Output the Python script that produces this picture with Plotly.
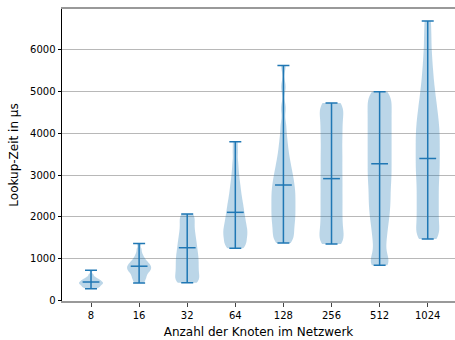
import plotly.graph_objects as go

knoten = ["8", "16", "32", "64", "128", "256", "512", "1024"]

# gemessene Lookup-Zeiten (geschätzte Stichproben, abgelesen aus der Violinenform)
zeiten_8 = [288, 305, 325, 338, 350, 368, 380, 392, 405, 415, 425, 435, 447, 458,
            470, 485, 497, 510, 530, 550, 580, 630, 729]
zeiten_16 = [424, 460, 510, 545, 580, 615, 650, 680, 705, 725, 748, 770, 792, 812,
             832, 855, 878, 905, 935, 965, 1010, 1060, 1130, 1230, 1367]
zeiten_32 = [430, 450, 510, 580, 650, 720, 790, 860, 930, 1000, 1070, 1140, 1220,
             1300, 1380, 1470, 1560, 1660, 1770, 1880, 1990, 2072]
zeiten_64 = [1252, 1280, 1330, 1390, 1450, 1510, 1560, 1610, 1660, 1710, 1760,
             1820, 1880, 1940, 2000, 2070, 2140, 2210, 2290, 2370, 2460, 2560, 2670,
             2790, 2930, 3100, 3300, 3550, 3793]
zeiten_128 = [1381, 1430, 1510, 1590, 1670, 1750, 1830, 1900, 1970, 2040, 2110, 2180,
              2250, 2320, 2390, 2460, 2530, 2600, 2670, 2740, 2820, 2900, 2980, 3070,
              3170, 3280, 3400, 3550, 3720, 3930, 4200, 4600, 5100, 5612]
zeiten_256 = [1357, 1385, 1440, 1525, 1615, 1730, 1815, 1925, 2010, 2130, 2215, 2330,
              2410, 2530, 2610, 2730, 2820, 2915, 3030, 3110, 3235, 3320, 3430, 3525,
              3620, 3740, 3830, 3940, 4035, 4130, 4240, 4330, 4440, 4530, 4620, 4690,
              4721]
zeiten_512 = [850, 900, 1020, 1250, 1450, 1630, 1790, 1940, 2070, 2200, 2320, 2440,
              2560, 2680, 2800, 2910, 3020, 3130, 3240, 3350, 3460, 3570, 3680, 3790,
              3900, 4010, 4120, 4230, 4340, 4450, 4560, 4670, 4780, 4880, 4986]
zeiten_1024 = [1476, 1530, 1630, 1750, 1870, 1990, 2110, 2230, 2350, 2470, 2590,
               2710, 2830, 2950, 3060, 3170, 3280, 3390, 3500, 3610, 3720, 3830,
               3940, 4050, 4160, 4280, 4400, 4530, 4670, 4820, 4990, 5180, 5400, 5650,
               5950, 6300, 6674]

stichproben = [zeiten_8, zeiten_16, zeiten_32, zeiten_64,
               zeiten_128, zeiten_256, zeiten_512, zeiten_1024]

minimum = [288, 424, 430, 1252, 1381, 1357, 850, 1476]
mittel = [448, 825, 1266, 2110, 2762, 2914, 3269, 3395]
maximum = [729, 1367, 2072, 3793, 5612, 4721, 4986, 6674]

y_ticks = [0, 1000, 2000, 3000, 4000, 5000, 6000]

bandbreiten = [25, 50, 120, 120, 150, 200, 180, 200]

C0 = "#1f77b4"
fig = go.Figure()

for k, s, bw in zip(knoten, stichproben, bandbreiten):
    fig.add_trace(go.Violin(
        x=[k] * len(s), y=s, width=0.5, spanmode="hard", bandwidth=bw,
        scalemode="width", points=False, side="both",
        fillcolor="rgba(31,119,180,0.3)", line=dict(width=0, color="rgba(31,119,180,0)"),
        box=dict(visible=False), meanline=dict(visible=False),
        showlegend=False, hoverinfo="skip",
    ))

fig.add_trace(go.Scatter(
    x=knoten, y=mittel, mode="markers",
    marker=dict(symbol="line-ew", size=12, line=dict(width=1.5, color=C0), color=C0),
    error_y=dict(type="data", symmetric=False,
                 array=[mx - m for mx, m in zip(maximum, mittel)],
                 arrayminus=[m - mn for m, mn in zip(mittel, minimum)],
                 color=C0, thickness=1.5, width=6),
    showlegend=False, hoverinfo="skip",
))

fig.update_layout(
    width=455, height=340,
    margin=dict(l=62, r=0, t=9, b=39),
    paper_bgcolor="white", plot_bgcolor="white",
    violinmode="overlay",
    font=dict(family="DejaVu Sans", size=10, color="black"),
    xaxis=dict(
        type="category", categoryorder="array", categoryarray=knoten,
        range=[-0.603, 7.567], automargin=False,
        showline=True, linecolor="#999999", linewidth=2, mirror=True,
        ticks="outside", ticklen=3.5, tickcolor="#444444", tickwidth=1,
        showgrid=False, zeroline=False,
        title=dict(text="Anzahl der Knoten im Netzwerk", standoff=8),
    ),
    yaxis=dict(
        range=[-5, 6961], tickvals=y_ticks, automargin=False,
        showline=True, linecolor="black", linewidth=1,
        ticks="outside", ticklen=3.5, tickcolor="black", tickwidth=1,
        showgrid=True, gridcolor="#b8b8b8", gridwidth=1, zeroline=False,
        title=dict(text="Lookup-Zeit in µs", standoff=8),
    ),
)

fig.write_html("out.html", config={"displayModeBar": False},
               post_script="document.body.style.margin='0';")
